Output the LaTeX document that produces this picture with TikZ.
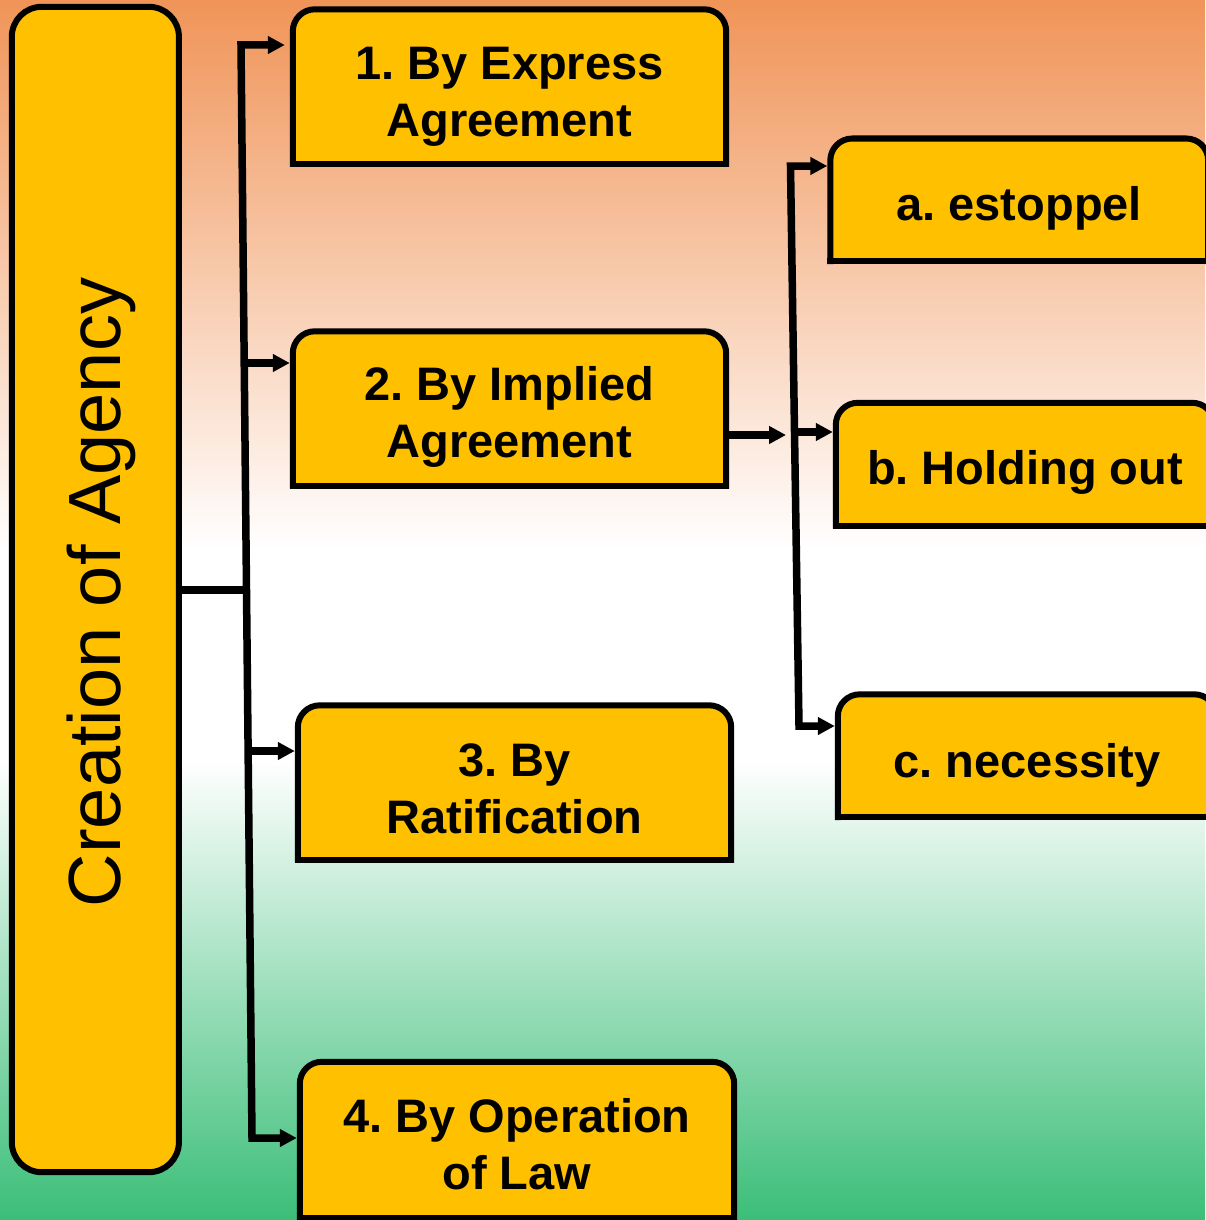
\documentclass[tikz,border=0pt]{standalone}
\usepackage{fontspec}
\setmainfont{Liberation Sans}
\usetikzlibrary{arrows.meta,backgrounds}
\frenchspacing

\definecolor{boxyellow}{RGB}{255,192,0}
\definecolor{bgorange}{RGB}{240,148,88}
\definecolor{bggreen}{RGB}{59,190,120}

\pgfdeclarelayer{backdrop}
\pgfsetlayers{backdrop,background,main}

\begin{document}
\begin{tikzpicture}[x=1pt,y=-1pt,
  frame/.style={inner sep=0pt},
  label text/.style={inner sep=0pt, align=center, text=black,
    font=\bfseries\fontsize{47}{57}\selectfont},
  border/.style={line width=6pt, draw=black, line cap=rect, line join=miter},
  link/.style={line width=7.5pt, draw=black, line join=miter},
  arr/.style={link, -{Triangle[length=17pt,width=17pt]}, shorten >=3pt},
]
\path[use as bounding box] (0,0) rectangle (1205,1220);
\clip (0,0) rectangle (1205,1220);

% backdrop: orange fading to white, then white fading to green
\begin{pgfonlayer}{backdrop}
  \fill[top color=bgorange, bottom color=white] (0,0) rectangle (1205,550);
  \fill[white] (0,549) rectangle (1205,761);
  \fill[top color=white, bottom color=bggreen] (0,760) rectangle (1205,1220);
\end{pgfonlayer}

% main vertical box
\node[frame, minimum width=166.7pt, minimum height=1165pt] (main) at (95.35,589.5) {};
\node[rotate=90, font=\fontsize{74}{89}\selectfont] (maintext) at ([xshift=6pt,yshift=-3pt]main.center) {Creation of Agency};

% category boxes
\node[frame, minimum width=433pt, minimum height=154pt] (b1) at (509.5,86.5) {};
\node[frame, minimum width=433pt, minimum height=154pt] (b2) at (509.5,408.5) {};
\node[frame, minimum width=433pt, minimum height=154pt] (b3) at (514.5,782.5) {};
\node[frame, minimum width=434pt, minimum height=156pt] (b4) at (517,1140) {};

% sub-category boxes
\node[frame, minimum width=377.5pt, minimum height=122.3pt] (ba) at (1019.25,199.85) {};
\node[frame, minimum width=378pt, minimum height=122.5pt] (bb) at (1025,464.25) {};
\node[frame, minimum width=378pt, minimum height=122.5pt] (bc) at (1027,755.75) {};

% box texts
\node[label text] (b1t) at ([yshift=-10pt]b1.center) {1. By Express\\Agreement};
\node[label text] (b2t) at ([yshift=-8pt]b2.center) {2. By Implied\\Agreement};
\node[label text] (b3t) at ([yshift=-6pt]b3.center) {3. By\\Ratification};
\node[label text] (b4t) at ([yshift=-4pt]b4.center) {4. By Operation\\of Law};
\node[label text] (bat) at ([yshift=-8pt]ba.center) {a. estoppel};
\node[label text] (bbt) at ([yshift=-8pt]bb.center) {b. Holding out};
\node[label text] (bct) at ([yshift=-10pt]bc.center) {c. necessity};

% box outlines and fills behind the text
\begin{scope}[on background layer]
  \fill[boxyellow, rounded corners=30pt] (main.south west) rectangle (main.north east);
  \draw[border, rounded corners=30pt] (main.south west) rectangle (main.north east);
  \foreach \n in {b1,b2,b3,b4,ba,bb,bc} {
    \fill[boxyellow, rounded corners=22pt] (\n.south west) rectangle (\n.north east);
    \fill[boxyellow] (\n.south west) rectangle (\n.east);
    \draw[border, rounded corners=22pt] (\n.south west) |- (\n.north) -| (\n.south east);
    \draw[border] (\n.south west) -- (\n.south east);
  }
\end{scope}

% first trunk
\coordinate (t1) at (241,45);
\coordinate (t2) at (244.2,363);
\coordinate (tm) at (246.5,590);
\coordinate (t3) at (248.1,751);
\coordinate (t4) at (252,1138);

\draw[link] (main.east |- tm) -- (tm);
\draw[arr, shorten >=8pt] (tm) -- (t1) -- (b1.west |- t1);
\draw[arr] (tm) -- (t4) -- (b4.west |- t4);
\draw[arr] (t2) -- (b2.west |- t2);
\draw[arr] (t3) -- (b3.west |- t3);

% second trunk
\coordinate (s1) at (790.5,166);
\coordinate (s2) at (794.5,432);
\coordinate (s3) at (799,726);
\coordinate (j2) at (789,435);

\draw[arr] (b2.east |- j2) -- (j2);
\draw[arr] (s2) -- (s1) -- (ba.west |- s1);
\draw[arr] (s2) -- (s3) -- (bc.west |- s3);
\draw[arr] (s2) -- (bb.west |- s2);
\end{tikzpicture}
\end{document}
